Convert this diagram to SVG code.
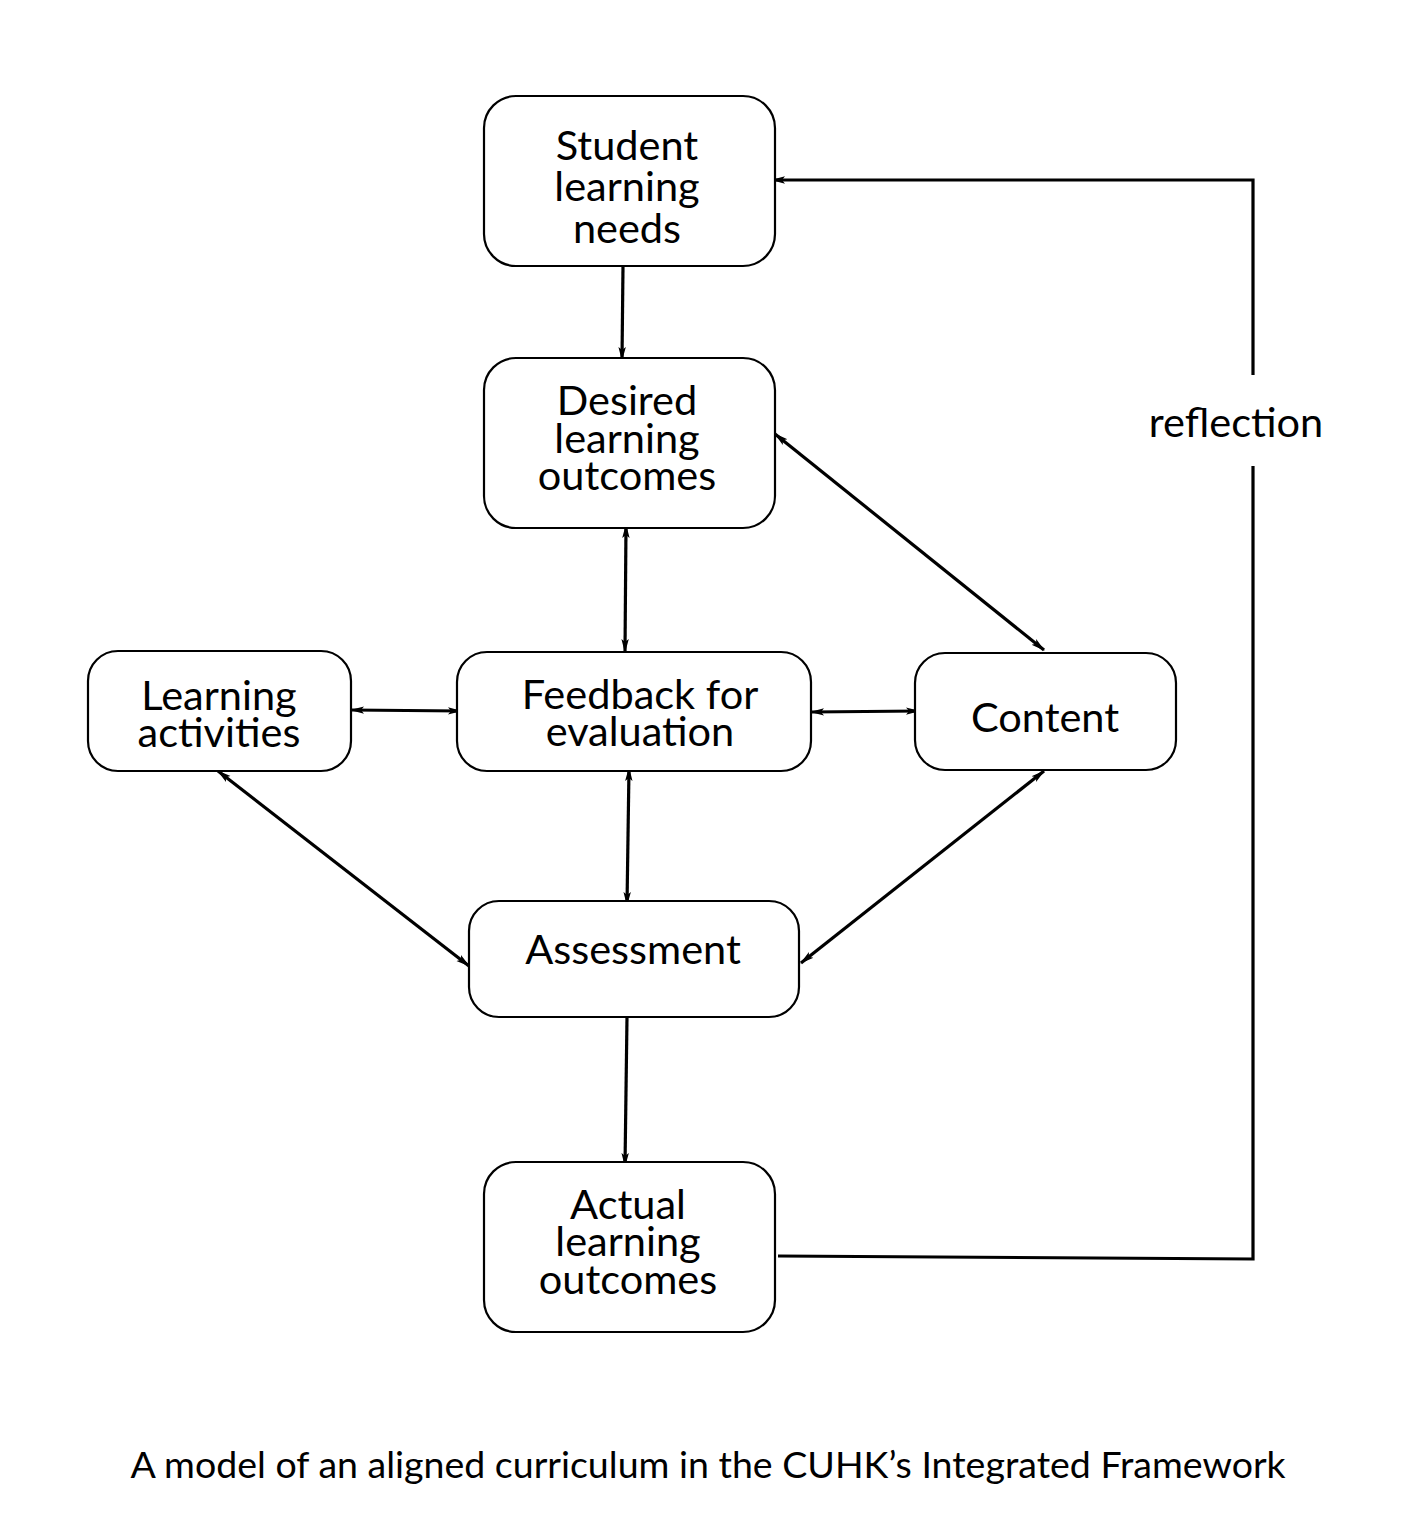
<svg xmlns="http://www.w3.org/2000/svg" width="1417" height="1515" viewBox="0 0 1417 1515">
<defs>
<style>
.box{fill:#fff;stroke:#000;stroke-width:2.2}
.t{font-family:Lato,"Open Sans",sans-serif;font-size:41.5px;fill:#000;text-anchor:middle}
.c{fill:none;stroke:#000;stroke-width:3.2}
</style>
<marker id="ah" viewBox="0 0 14 9" refX="13" refY="4.5" markerWidth="14" markerHeight="9" markerUnits="userSpaceOnUse" orient="auto-start-reverse">
<path d="M0,0.8 L14,4.5 L0,8.2 L3,4.5 Z" fill="#000"/>
</marker>
</defs>
<rect width="1417" height="1515" fill="#fff"/>
<g id="connectors">
<line class="c" x1="623" y1="266" x2="622" y2="360" marker-end="url(#ah)"/>
<line class="c" x1="626" y1="525" x2="625" y2="652" marker-start="url(#ah)" marker-end="url(#ah)"/>
<line class="c" x1="351" y1="710" x2="461" y2="711" marker-start="url(#ah)" marker-end="url(#ah)"/>
<line class="c" x1="811" y1="712" x2="919" y2="711" marker-start="url(#ah)" marker-end="url(#ah)"/>
<line class="c" x1="775" y1="434" x2="1044" y2="650" marker-start="url(#ah)" marker-end="url(#ah)"/>
<line class="c" x1="629" y1="768" x2="627" y2="905" marker-start="url(#ah)" marker-end="url(#ah)"/>
<line class="c" x1="218" y1="771" x2="469" y2="966" marker-start="url(#ah)" marker-end="url(#ah)"/>
<line class="c" x1="1044" y1="771" x2="801" y2="963" marker-start="url(#ah)" marker-end="url(#ah)"/>
<line class="c" x1="627" y1="1017" x2="625" y2="1166" marker-end="url(#ah)"/>
<polyline class="c" points="778,1256 1253,1259 1253,466"/>
<polyline class="c" points="1253,375 1253,180 772,180" marker-end="url(#ah)"/>
</g>
<g id="n-needs">
<rect class="box" x="484" y="96" width="291" height="170" rx="32"/>
<text class="t" x="627" y="160">Student</text>
<text class="t" x="627" y="201">learning</text>
<text class="t" x="627" y="243">needs</text>
</g>
<g id="n-desired">
<rect class="box" x="484" y="358" width="291" height="170" rx="32"/>
<text class="t" x="627" y="415">Desired</text>
<text class="t" x="627" y="453">learning</text>
<text class="t" x="627" y="490">outcomes</text>
</g>
<g id="n-activities">
<rect class="box" x="88" y="651" width="263" height="120" rx="30"/>
<text class="t" x="219" y="710">Learning</text>
<text class="t" x="219" y="747">activities</text>
</g>
<g id="n-feedback">
<rect class="box" x="457" y="652" width="354" height="119" rx="30"/>
<text class="t" x="640" y="709">Feedback for</text>
<text class="t" x="640" y="746">evaluation</text>
</g>
<g id="n-content">
<rect class="box" x="915" y="653" width="261" height="117" rx="30"/>
<text class="t" x="1045" y="732">Content</text>
</g>
<g id="n-assessment">
<rect class="box" x="469" y="901" width="330" height="116" rx="30"/>
<text class="t" x="633" y="964">Assessment</text>
</g>
<g id="n-actual">
<rect class="box" x="484" y="1162" width="291" height="170" rx="32"/>
<text class="t" x="628" y="1219">Actual</text>
<text class="t" x="628" y="1256">learning</text>
<text class="t" x="628" y="1294">outcomes</text>
</g>
<text class="t" x="1236" y="437">reflection</text>
<text class="t" x="708" y="1478" style="font-size:37.5px">A model of an aligned curriculum in the CUHK’s Integrated Framework</text>
</svg>
